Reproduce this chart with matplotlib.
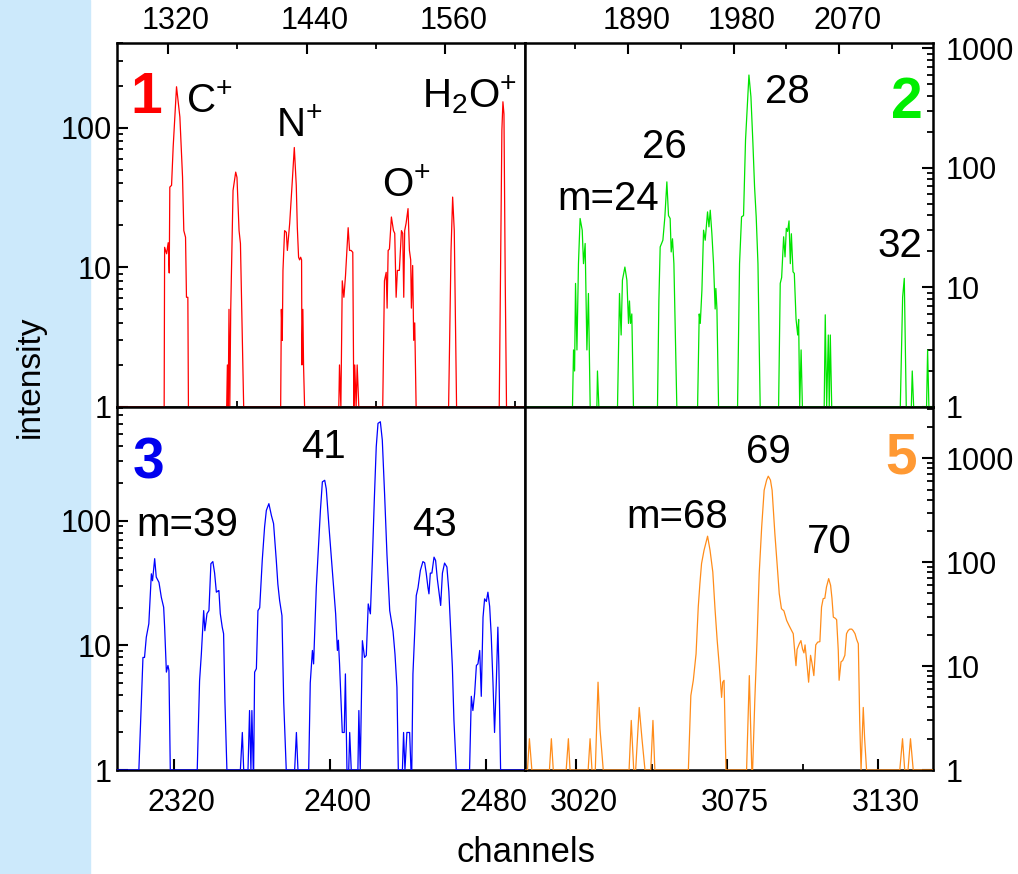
import numpy as np
import matplotlib.pyplot as plt
import matplotlib.transforms as mtransforms
from matplotlib.ticker import FixedLocator, FuncFormatter, LogLocator, NullFormatter

plt.rcParams['font.family'] = ['Liberation Sans', 'DejaVu Sans']
plt.rcParams['mathtext.fontset'] = 'custom'
plt.rcParams['mathtext.rm'] = 'Liberation Sans'
plt.rcParams['mathtext.it'] = 'Liberation Sans:italic'
plt.rcParams['mathtext.bf'] = 'Liberation Sans:bold'

# ---- spectra: channel / counts for each window ----
ch1 = [1276, 1316.8, 1317.2, 1318.9, 1320.3, 1321.2, 1321.7, 1323.2, 1324.6, 1327.5, 1330.4,
       1332.7, 1333.8, 1335.3, 1336.1, 1337.3, 1337.8,
       1370.9, 1371.5, 1372.2, 1372.9, 1373.6, 1374.4, 1376.4, 1378.7, 1379.8, 1381.6, 1382.8, 1385.6,
       1417.6, 1418.2, 1419.0, 1419.6, 1421.0, 1422.5, 1423.4, 1425.4, 1427.7, 1429.4, 1431.1,
       1432.0, 1433.1, 1434.0, 1434.9, 1435.7, 1436.0, 1436.8, 1437.4, 1438.3,
       1467.9, 1468.5, 1469.7, 1470.9, 1472.3, 1473.7, 1474.9, 1476.0, 1477.2, 1478.6, 1480.0,
       1480.9, 1481.7, 1482.9, 1483.8, 1485.2,
       1505.9, 1507.4, 1508.9, 1509.7, 1510.6, 1511.7, 1513.4, 1515.2, 1516.3, 1517.5, 1518.6,
       1520.3, 1522.1, 1523.2, 1524.1, 1524.9, 1526.1, 1527.8, 1529.0, 1530.1, 1530.7, 1531.8,
       1532.7, 1533.6, 1534.8,
       1562.9, 1565.0, 1566.4, 1567.8, 1569.8,
       1606.7, 1607.9, 1609.0, 1609.9, 1610.8, 1611.9, 1613.0, 1630]
cnt1 = [1, 1, 13.9, 12.5, 15.0, 9.1, 37.5, 38.6, 72.7, 196, 119,
        44.3, 18.3, 16.4, 6.1, 6.1, 1,
        1, 2.0, 1, 5.0, 1, 5.0, 35.5, 48, 44, 18.3, 14.8, 1,
        1, 5.0, 3.0, 9.5, 18.3, 17.8, 13.2, 20.6, 41.9, 72, 38.6,
        19.4, 11.8, 11.3, 11.8, 11.3, 2.0, 5.0, 2.0, 1,
        1, 2.0, 1, 8.0, 6.1, 8.7, 13.2, 19.2, 13.2, 13.2, 12.8,
        1, 2.0, 1, 2.0, 1,
        1, 8.0, 9.2, 5.1, 13.2, 13.5, 22.9, 18.3, 17.5, 6.1, 9.5,
        9.5, 18.3, 17.5, 6.1, 18.3, 20.6, 26.3, 13.2, 11.3, 5.1, 10.3,
        3.0, 4.0, 1,
        1, 13.2, 31.8, 18.3, 1,
        1, 10.6, 95.9, 153, 125, 8, 1, 1]

ch2 = [1802, 1842.5, 1843.4, 1844.3, 1845.1, 1846.3, 1847.6, 1849.0, 1850.8, 1851.9, 1853.3,
       1854.8, 1856.1, 1857.6, 1863.3, 1863.8, 1865.0,
       1880.9, 1882.6, 1884.0, 1885.1, 1887.2, 1888.9, 1890.3, 1891.1, 1892.0, 1893.1, 1894.5,
       1915.0, 1916.2, 1917.3, 1919.6, 1921.3, 1923.0, 1924.4, 1925.8, 1926.7, 1927.8, 1929.0, 1931.5,
       1949.2, 1950.6, 1951.5, 1952.9, 1954.3, 1955.7, 1957.7, 1958.9, 1960.0, 1961.4, 1962.8,
       1964.2, 1964.8, 1965.7, 1967.1,
       1983.3, 1985.0, 1986.7, 1988.4, 1990.1, 1993.0, 1994.7, 1996.4, 1997.8, 1999.2, 2000.7, 2002.6,
       2018.3, 2019.7, 2020.9, 2022.6, 2023.8, 2024.9, 2026.0, 2027.2, 2028.3, 2029.2, 2030.6,
       2031.7, 2033.2, 2034.6, 2035.4, 2036.3, 2037.5, 2038.6,
       2057.2, 2058.1, 2059.3, 2060.7, 2061.5, 2062.4, 2063.6,
       2122.1, 2124.1, 2125.5, 2127.2, 2131.5, 2132.3, 2133.5, 2144.5, 2145.4, 2146.5, 2150]
cnt2 = [1, 1, 3.0, 2.0, 10.8, 3.0, 15.8, 37.7, 30.1, 15.8, 23.3,
        3.0, 8.9, 1, 1, 2.0, 1,
        1, 8.9, 4.0, 11.5, 14.8, 11.5, 5.0, 7.7, 5.0, 6.0, 1,
        1, 7.8, 21.8, 24.8, 38.9, 76.3, 39.9, 37.7, 19.8, 25.5, 15.8, 1,
        1, 6.0, 5.0, 9.5, 30.1, 24.8, 42.8, 32.1, 44.2, 28.1, 15.8,
        6.6, 9.8, 6.6, 1,
        1, 15.8, 38.9, 39.9, 171, 597, 393, 160, 69.3, 38.9, 15.8, 1,
        1, 10.8, 12.1, 26.5, 18.0, 31.2, 29.4, 36, 15.8, 28.1, 13.5,
        13.1, 5.4, 4.0, 5.4, 1, 3.0, 1,
        1, 5.9, 1, 4.0, 1, 4.0, 1,
        1, 8.3, 11.9, 1, 1, 2.0, 1, 1, 3.0, 1, 1]

ch3 = [2291, 2302.2, 2304.3, 2305.1, 2306.0, 2307.3, 2308.6, 2309.2, 2310.3, 2311.1, 2312.5,
       2313.7, 2314.9, 2315.4, 2316.3, 2317.1, 2317.6, 2318.3,
       2332.1, 2333.3, 2334.2, 2335.4, 2336.0, 2337.1, 2338.1, 2339.1, 2340.1, 2341.0, 2341.9,
       2342.7, 2343.2, 2343.9, 2344.9, 2345.6, 2346.3, 2347.3,
       2354.2, 2355.2, 2355.9, 2358.1, 2358.9, 2359.6, 2360.1, 2360.8,
       2361.0, 2361.5, 2362.4, 2363.2, 2364.1, 2365.4, 2366.6, 2367.5, 2368.8, 2370.1, 2371.2,
       2372.6, 2373.4, 2374.3, 2375.5, 2376.4, 2377.7,
       2382.0, 2382.9, 2383.7,
       2389.2, 2390.0, 2391.1, 2391.7, 2393.1, 2394.1, 2395.2, 2396.2, 2397.4, 2398.2, 2399.6,
       2400.8, 2402.0, 2403.0, 2403.9, 2404.4, 2405.0, 2406.4, 2407.4, 2408.0, 2408.8, 2409.7,
       2410.2, 2411.0,
       2414.4, 2414.9, 2415.6, 2416.7, 2417.8, 2418.7, 2419.7, 2420.8, 2421.8, 2422.8, 2423.8,
       2424.7, 2425.9, 2426.9, 2428.1, 2429.3, 2430.7, 2431.5, 2432.4, 2433.4, 2434.4, 2435.1,
       2436.3, 2437.2, 2437.8, 2438.5, 2439.5, 2440.9, 2441.6,
       2442.0, 2442.6, 2443.5, 2444.3, 2445.2, 2446.4, 2447.7, 2448.6, 2449.4, 2450.3, 2450.8,
       2451.5, 2452.3, 2453.4, 2454.2, 2455.1, 2455.9, 2456.8, 2457.7, 2458.8, 2460.0, 2461.0,
       2461.7, 2462.8, 2463.6, 2464.8,
       2471.6, 2472.5, 2473.3, 2474.2, 2475.1, 2475.9, 2476.8, 2477.6, 2478.5, 2479.3, 2480.2,
       2481.0, 2481.9, 2482.7, 2483.6, 2484.4, 2485.3, 2486.1, 2486.6, 2487.5, 2500]
cnt3 = [1, 1, 8.0, 8.0, 11.6, 14.9, 37.5, 33, 49.6, 35.3, 32,
        24.3, 20.2, 14.0, 6.1, 6.9, 6.3, 1,
        1, 5.2, 8.5, 19.0, 13.1, 18, 19.0, 45.2, 47, 38, 26.7,
        27.3, 27.5, 18, 14, 12.4, 3.5, 1,
        1, 2.0, 1, 1, 3.0, 1, 3.0, 1,
        1, 6.1, 6.5, 19.0, 20, 48, 89, 121, 137, 110, 94.8,
        48, 31, 22.9, 17.3, 3.5, 1,
        1, 2.0, 1,
        1, 5.0, 9.1, 7.1, 29.3, 57.8, 121, 205, 211, 180, 89,
        51, 29.3, 17.9, 9.1, 11, 7.1, 2.0, 2.0, 5.9, 1, 1,
        2.0, 1,
        1, 3.0, 1, 10.9, 8.0, 8.3, 21.5, 17.9, 48, 146, 392,
        604, 622, 443, 160, 53, 19.0, 15.8, 13, 8.5, 4.6, 1,
        1, 1, 2.0, 1, 2.0, 2.0, 1,
        1, 5.9, 12.4, 25.1, 29, 39.9, 47, 46, 38, 29, 25.9,
        38, 38, 51, 48, 34, 27, 20.9, 38, 45.7, 42.5, 27,
        15.8, 6.7, 2.5, 1,
        1, 3.9, 3.0, 4.1, 6.9, 7.1, 9.1, 3.9, 16.8, 23.6, 22.5,
        26.7, 20.5, 12, 5, 2.0, 5, 14.0, 7, 1, 1]

ch4 = [3001.4, 3002.3, 3003.0, 3003.9, 3010.3, 3011.0, 3011.7, 3016.4, 3017.2, 3017.8,
       3024.4, 3025.1, 3025.8, 3027.0, 3028.0, 3028.7, 3029.9,
       3039.3, 3040.1, 3041.0, 3041.7, 3043.0, 3044.0, 3045.1, 3047.2, 3048.0, 3048.7,
       3060.9, 3061.8, 3062.7, 3063.7, 3064.5, 3065.1, 3065.7, 3066.6, 3067.9, 3068.8, 3069.8,
       3070.6, 3071.4, 3072.2, 3073.0, 3073.4, 3073.9, 3074.6,
       3082.1, 3083.1, 3084.0,
       3084.3, 3085.1, 3086.0, 3086.7, 3087.6, 3088.5, 3089.4, 3090.0, 3090.8, 3091.4, 3092.4,
       3093.3, 3094.0, 3094.8, 3095.7, 3096.7, 3097.6, 3098.5, 3099.1, 3099.7, 3100.1, 3100.5,
       3101.3, 3101.9, 3102.5, 3103.0, 3103.4, 3104.2, 3104.7, 3105.4, 3105.9, 3106.6, 3107.3,
       3108.0, 3108.8, 3109.4, 3110.0, 3110.6, 3111.2, 3112.0, 3112.7, 3113.2, 3113.7, 3114.3,
       3114.9, 3115.5, 3115.8, 3116.5, 3117.1, 3117.9, 3118.5, 3119.1, 3119.7, 3120.4, 3120.9,
       3121.6, 3122.2, 3122.8, 3123.1, 3123.3, 3123.8, 3124.6, 3125.1, 3125.8,
       3137.9, 3138.9, 3139.7, 3140.9, 3141.8, 3142.8, 3150]
cnt4 = [1, 1, 2.0, 1, 1, 2.0, 1, 1, 2.0, 1,
        1, 2.0, 1, 1, 7.0, 2.5, 1,
        1, 3.0, 1, 1, 4.0, 2, 1, 1, 3.0, 1,
        1, 5.2, 7.3, 13.1, 37, 62.2, 97, 130, 178, 130, 80.5,
        35.7, 17.6, 9.8, 5.0, 7.0, 7.3, 1,
        1, 8.1, 1,
        1, 4.7, 20.5, 77.6, 218, 493, 617, 673, 617, 493, 189,
        90, 49.8, 35.7, 34, 27.5, 24.5, 22.0, 20.5, 13.1, 10.1, 14.5,
        16.4, 17.6, 14.5, 13.4, 16, 9.8, 7.0, 12.7, 10.8, 8.1, 16,
        17, 17.2, 37, 44.6, 45, 57.7, 69.5, 60, 45, 29.6, 29,
        28, 14.1, 7.3, 11, 11.3, 12.7, 20.5, 22.0, 22.7, 22.7, 22,
        20.5, 18, 16.4, 6, 3.0, 1, 4.0, 2.0, 1,
        1, 2.0, 1, 1, 2.0, 1, 1]

W, H = 1018, 874
fig = plt.figure(figsize=(W / 100, H / 100), dpi=100)
# pale blue strip down the left edge, kept under the axes and their labels
fig.patches.append(plt.Rectangle((0, 0), 90 / W, 1, transform=fig.transFigure,
                                 color='#cce9fb', zorder=-10))


def rect(x0, y0, x1, y1):
    # pixel box (top-left origin) -> figure fraction
    return [x0 / W, 1 - y1 / H, (x1 - x0) / W, (y1 - y0) / H]


panels = [
    dict(box=(117, 43, 525, 407), ch=ch1, cnt=cnt1, color='#ff0000',
         xlim=(1276, 1629), ylim=(1, 403), xside='top',
         xmajor=[1320, 1440, 1560], xminor=[1380, 1500, 1620], yside='left',
         num=('1', '#ff0000', 1287.5, 127, 'left'),
         labels=[('C$^{+}$', 1336.0, 127), ('N$^{+}$', 1413.8, 85),
                 ('O$^{+}$', 1505.4, 32), ('H$_{2}$O$^{+}$', 1539.8, 140)]),
    dict(box=(525, 43, 933, 407), ch=ch2, cnt=cnt2, color='#00e400',
         xlim=(1802, 2150), ylim=(1, 1106), xside='top',
         xmajor=[1890, 1980, 2070], xminor=[1845, 1935, 2025, 2115], yside='right',
         num=('2', '#00ee00', 2141, 261, 'right'),
         labels=[('28', 2006.5, 348), ('26', 1901.5, 120), ('m=24', 1830.0, 44.3),
                 ('32', 2103.0, 17.9)]),
    dict(box=(117, 407, 525, 770), ch=ch3, cnt=cnt3, color='#0000ff',
         xlim=(2291, 2500), ylim=(1, 817), xside='bottom',
         xmajor=[2320, 2400, 2480], xminor=[], yside='left',
         num=('3', '#0000ee', 2299, 219, 'left'),
         labels=[('41', 2385.4, 318), ('m=39', 2300.8, 76), ('43', 2442.2, 76)]),
    dict(box=(525, 407, 933, 770), ch=ch4, cnt=cnt4, color='#ff8c1a',
         xlim=(3001.4, 3150), ylim=(1, 3118), xside='bottom',
         xmajor=[3020, 3075, 3130], xminor=[3047.5, 3102.5], yside='right',
         num=('5', '#ff9933', 3144, 720, 'right'),
         labels=[('69', 3082.0, 899), ('m=68', 3038.4, 212), ('70', 3104.0, 122)]),
]

label_shift = mtransforms.ScaledTranslation(8 / 100, 0, fig.dpi_scale_trans)
axes = []
for p in panels:
    ax = fig.add_axes(rect(*p['box']))
    ax.plot(p['ch'], p['cnt'], color=p['color'], lw=0.9, zorder=3)
    ax.set_yscale('log')
    ax.set_xlim(*p['xlim'])
    ax.set_ylim(*p['ylim'])
    for s in ax.spines.values():
        s.set_linewidth(1.8)

    ax.yaxis.set_major_locator(LogLocator(base=10))
    ax.yaxis.set_minor_locator(LogLocator(base=10, subs=np.arange(2, 10)))
    ax.yaxis.set_major_formatter(FuncFormatter(lambda v, pos: f'{v:.0f}'))
    ax.yaxis.set_minor_formatter(NullFormatter())
    ax.xaxis.set_major_locator(FixedLocator(p['xmajor']))
    ax.xaxis.set_minor_locator(FixedLocator(p['xminor']))

    ax.tick_params(which='major', direction='in', length=8, width=1.5, labelsize=22)
    ax.tick_params(which='minor', direction='in', length=4, width=1.3)

    left = p['yside'] == 'left'
    ax.tick_params(axis='y', which='both', left=left, right=not left,
                   labelleft=left, labelright=not left)
    ax.tick_params(axis='y', pad=4 if left else 9)

    top = p['xside'] == 'top'
    ax.tick_params(axis='x', which='major', top=top, bottom=not top,
                   labeltop=top, labelbottom=not top, pad=5 if top else 13)
    if top:
        ax.tick_params(axis='x', which='minor', top=True, bottom=(p['yside'] == 'left'))
    else:
        ax.tick_params(axis='x', which='minor', top=False, bottom=True)

    n, ncol, nx, ny, nha = p['num']
    ax.text(nx, ny, n, color=ncol, fontsize=41, fontweight='bold', ha=nha, va='baseline')
    for txt, x, y in p['labels']:
        ax.text(x, y, txt, fontsize=29, ha='left', va='baseline')
    axes.append(ax)

# make sure tick objects exist, then nudge the channel labels sideways
fig.canvas.draw()
for ax in axes:
    for tick in ax.xaxis.get_major_ticks():
        for lbl in (tick.label1, tick.label2):
            lbl.set_transform(lbl.get_transform() + label_shift)

fig.text(30 / W, 1 - 377 / H, 'intensity', rotation=90, ha='center', va='center', fontsize=24)
fig.text(526 / W, 1 - 853 / H, 'channels', ha='center', va='center', fontsize=25)

fig.savefig('out.png', dpi=100)
